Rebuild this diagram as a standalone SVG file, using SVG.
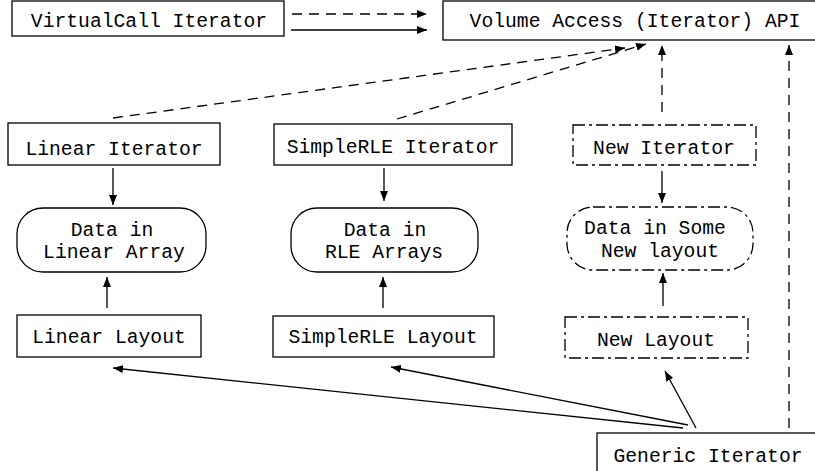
<svg xmlns="http://www.w3.org/2000/svg" width="815" height="471" viewBox="0 0 815 471">
  <style>
    .box { fill: #fff; stroke: #000; stroke-width: 1.3; }
    .dd { stroke-dasharray: 12 4 3 4; }
    .lbl { font-family: "Liberation Mono", "Courier New", monospace; font-size: 19.7px; fill: #000; text-anchor: middle; }
    .c { fill: none; stroke: #000; stroke-width: 1.3; }
    .dash { stroke-dasharray: 10 7; }
  </style>
  <defs>
    <marker id="ah" viewBox="0 0 10 8" refX="10" refY="4" markerWidth="10" markerHeight="8" markerUnits="userSpaceOnUse" orient="auto">
      <path d="M0,0 L10,4 L0,8 Z" fill="#000"/>
    </marker>
  </defs>
  <rect width="815" height="471" fill="#fff"/>

  <g id="connectors">
    <line class="c dash" x1="292" y1="14" x2="427" y2="14" marker-end="url(#ah)"/>
    <line class="c" x1="291" y1="30" x2="427" y2="30" marker-end="url(#ah)"/>
    <line class="c dash" x1="113" y1="118" x2="625" y2="48" marker-end="url(#ah)"/>
    <line class="c dash" x1="397" y1="119" x2="646" y2="44" marker-end="url(#ah)"/>
    <line class="c dash" x1="662" y1="112" x2="662" y2="45" marker-end="url(#ah)"/>
    <line class="c dash" x1="789" y1="428" x2="789" y2="45" marker-end="url(#ah)"/>
    <line class="c" x1="113" y1="168" x2="113" y2="205" marker-end="url(#ah)"/>
    <line class="c" x1="384" y1="168" x2="384" y2="201" marker-end="url(#ah)"/>
    <line class="c" x1="662" y1="171" x2="662" y2="203" marker-end="url(#ah)"/>
    <line class="c" x1="107" y1="308" x2="107" y2="277" marker-end="url(#ah)"/>
    <line class="c" x1="383" y1="308" x2="383" y2="277" marker-end="url(#ah)"/>
    <line class="c" x1="663" y1="306" x2="663" y2="273" marker-end="url(#ah)"/>
    <line class="c" x1="683" y1="428" x2="113" y2="368" marker-end="url(#ah)"/>
    <line class="c" x1="688" y1="425" x2="391" y2="367" marker-end="url(#ah)"/>
    <line class="c" x1="696" y1="428" x2="665" y2="371" marker-end="url(#ah)"/>
  </g>

  <g id="virtualcall-iterator">
    <rect class="box" x="12" y="1" width="272" height="35"/>
    <text class="lbl" x="149" y="27">VirtualCall Iterator</text>
  </g>
  <g id="volume-access-api">
    <rect class="box" x="443" y="1" width="380" height="39"/>
    <text class="lbl" x="635" y="27">Volume Access (Iterator) API</text>
  </g>

  <g id="linear-iterator">
    <rect class="box" x="8" y="123" width="212" height="42"/>
    <text class="lbl" x="114" y="155">Linear Iterator</text>
  </g>
  <g id="simplerle-iterator">
    <rect class="box" x="274" y="124" width="238" height="41"/>
    <text class="lbl" x="393" y="153">SimpleRLE Iterator</text>
  </g>
  <g id="new-iterator">
    <rect class="box dd" x="573" y="125" width="183" height="40"/>
    <text class="lbl" x="664" y="154">New Iterator</text>
  </g>

  <g id="data-linear-array">
    <rect class="box" x="17" y="208" width="189" height="64" rx="26" ry="26"/>
    <text class="lbl" x="112" y="236">Data in</text>
    <text class="lbl" x="114" y="258">Linear Array</text>
  </g>
  <g id="data-rle-arrays">
    <rect class="box" x="291" y="208" width="187" height="64" rx="26" ry="26"/>
    <text class="lbl" x="385" y="236">Data in</text>
    <text class="lbl" x="384" y="258">RLE Arrays</text>
  </g>
  <g id="data-new-layout">
    <rect class="box dd" x="567" y="207" width="186" height="63" rx="26" ry="26"/>
    <text class="lbl" x="655" y="234">Data in Some</text>
    <text class="lbl" x="660" y="257">New layout</text>
  </g>

  <g id="linear-layout">
    <rect class="box" x="17" y="315" width="184" height="42"/>
    <text class="lbl" x="109" y="343">Linear Layout</text>
  </g>
  <g id="simplerle-layout">
    <rect class="box" x="273" y="316" width="221" height="41"/>
    <text class="lbl" x="383" y="343">SimpleRLE Layout</text>
  </g>
  <g id="new-layout">
    <rect class="box dd" x="565" y="317" width="183" height="41"/>
    <text class="lbl" x="656" y="346">New Layout</text>
  </g>

  <g id="generic-iterator">
    <rect class="box" x="597" y="433" width="230" height="45"/>
    <text class="lbl" x="708" y="462">Generic Iterator</text>
  </g>
</svg>
